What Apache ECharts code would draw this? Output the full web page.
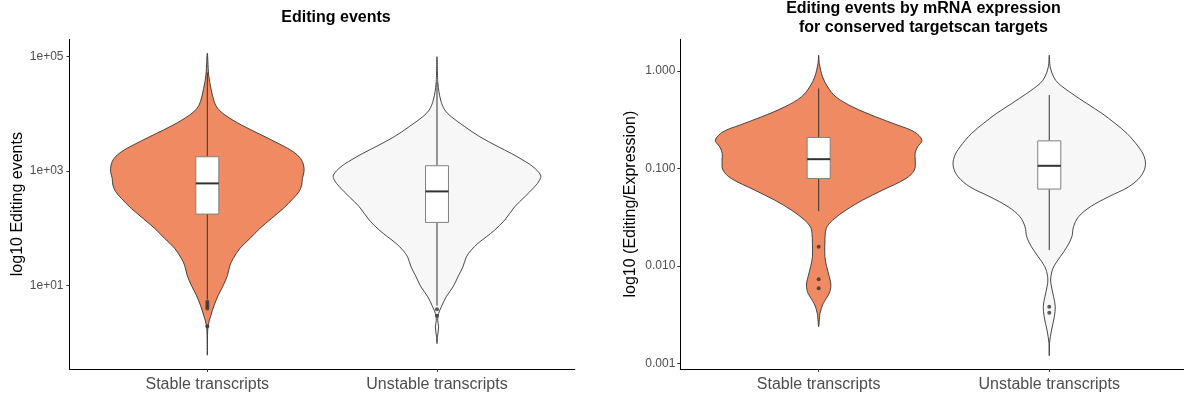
<!DOCTYPE html>
<html><head><meta charset="utf-8">
<script src="https://cdn.jsdelivr.net/npm/echarts@6/dist/echarts.min.js"></script>
<style>html,body{margin:0;padding:0;background:#fff}#c{width:1184px;height:399px}</style>
</head><body><div id="c"></div>
<script>
// ---------- data (y values are log10 units, widths are violin half-widths in category units) ----------
const categories = ['Stable transcripts', 'Unstable transcripts'];
const leftTicks = [1, 3, 5];
const leftTickLabels = ['1e+01', '1e+03', '1e+05'];
const rightTicks = [-3, -2, -1, 0];
const rightTickLabels = ['0.001', '0.010', '0.100', '1.000'];

// Panel 1: Editing events
const editStableY = [5.056,4.677,4.444,4.211,4.095,3.978,3.803,3.629,3.454,3.338,3.221,3.105,2.988,2.872,2.755,2.639,2.522,2.348,2.174,1.999,1.825,1.650,1.475,1.358,1.183,1.009,0.834,0.659,0.485,0.310,0.135,-0.214];
const editStableW = [0,0.006,0.016,0.030,0.045,0.077,0.149,0.236,0.323,0.374,0.406,0.419,0.421,0.414,0.411,0.399,0.374,0.331,0.280,0.229,0.186,0.142,0.113,0.099,0.088,0.070,0.048,0.030,0.016,0.004,0.001,0];
const editUnstableY = [4.996,4.532,4.240,4.066,3.949,3.775,3.600,3.426,3.309,3.192,3.076,2.930,2.843,2.726,2.551,2.376,2.144,1.969,1.852,1.737,1.620,1.503,1.329,1.154,0.979,0.805,0.630,0.514,0.397,0.280,0.106,-0.010];
const editUnstableW = [0,0.004,0.016,0.034,0.062,0.121,0.186,0.266,0.323,0.374,0.418,0.451,0.447,0.425,0.382,0.338,0.295,0.251,0.215,0.178,0.149,0.128,0.113,0.091,0.070,0.040,0.019,0.007,0.003,0.007,0.002,0];
// box stats: [lower whisker, Q1, median, Q3, upper whisker]
const editStableBox = [0.76, 2.249, 2.785, 3.25, 4.72];
const editUnstableBox = [0.65, 2.104, 2.645, 3.093, 4.55];
const editStableOutliers = [0.72, 0.68, 0.64, 0.60, 0.293];
const editUnstableOutliers = [0.59, 0.475];

// Panel 2: Editing / Expression
const ratioStableY = [0.162,0.077,-0.061,-0.163,-0.266,-0.368,-0.471,-0.556,-0.625,-0.710,-0.779,-0.846,-0.915,-1.017,-1.103,-1.222,-1.325,-1.428,-1.530,-1.599,-1.666,-1.769,-1.906,-2.009,-2.111,-2.197,-2.282,-2.384,-2.487,-2.624];
const ratioStableW = [0,0.003,0.017,0.039,0.075,0.147,0.248,0.343,0.415,0.448,0.429,0.418,0.419,0.415,0.379,0.278,0.191,0.118,0.061,0.036,0.029,0.027,0.027,0.035,0.046,0.053,0.046,0.020,0.006,0];
const ratioUnstableY = [0.162,0.042,-0.061,-0.128,-0.231,-0.334,-0.436,-0.539,-0.641,-0.779,-0.881,-0.984,-1.086,-1.189,-1.291,-1.394,-1.496,-1.599,-1.701,-1.804,-1.906,-2.009,-2.111,-2.179,-2.317,-2.419,-2.522,-2.658,-2.794,-2.922];
const ratioUnstableW = [0,0.004,0.019,0.040,0.098,0.163,0.229,0.286,0.337,0.387,0.412,0.416,0.395,0.344,0.257,0.178,0.127,0.105,0.098,0.077,0.048,0.019,0.007,0.007,0.019,0.026,0.022,0.010,0.001,0];
const ratioStableBox = [-1.438, -1.103, -0.905, -0.682, -0.18];
const ratioUnstableBox = [-1.838, -1.212, -0.973, -0.717, -0.248];
const ratioStableOutliers = [-1.804, -2.138, -2.230];
const ratioUnstableOutliers = [-2.419, -2.480];

// ---------- chart ----------
const FONT = '"Liberation Sans", Arial, Helvetica, sans-serif';
const fills = ['#EF8A62', '#F7F7F7'];
const BOX_HW = 0.05;

function violinRender(profiles) {
  return function (params, api) {
    const i = api.value(0);
    const p = profiles[i];
    const cx = i + 1;
    const pts = [];
    for (let k = 0; k < p.y.length; k++) pts.push(api.coord([cx + p.w[k], p.y[k]]));
    for (let k = p.y.length - 2; k >= 1; k--) pts.push(api.coord([cx - p.w[k], p.y[k]]));
    return {
      type: 'polygon',
      shape: { points: pts, smooth: 0.35 },
      style: { fill: fills[i], stroke: '#333333', lineWidth: 0.9 }
    };
  };
}
function boxRender(stats) {
  return function (params, api) {
    const i = api.value(0);
    const s = stats[i];
    const cx = i + 1;
    const lw = api.coord([cx, s[0]]), q1 = api.coord([cx, s[1]]),
          q3 = api.coord([cx, s[3]]), uw = api.coord([cx, s[4]]);
    const tl = api.coord([cx - BOX_HW, s[3]]), br = api.coord([cx + BOX_HW, s[1]]);
    const ml = api.coord([cx - BOX_HW, s[2]]), mr = api.coord([cx + BOX_HW, s[2]]);
    return {
      type: 'group',
      children: [
        { type: 'line', shape: { x1: q3[0], y1: q3[1], x2: uw[0], y2: uw[1] }, style: { stroke: '#333333', lineWidth: 1 } },
        { type: 'line', shape: { x1: q1[0], y1: q1[1], x2: lw[0], y2: lw[1] }, style: { stroke: '#333333', lineWidth: 1 } },
        { type: 'rect', shape: { x: tl[0], y: tl[1], width: br[0] - tl[0], height: br[1] - tl[1] }, style: { fill: '#FFFFFF', stroke: '#808080', lineWidth: 1 } },
        { type: 'line', shape: { x1: ml[0], y1: ml[1], x2: mr[0], y2: mr[1] }, style: { stroke: '#333333', lineWidth: 2 } }
      ]
    };
  };
}
function outlierData(lists) {
  const out = [];
  lists.forEach((l, i) => l.forEach(v => out.push([i + 1, v])));
  return out;
}
function lookup(ticks, labels) {
  return function (v) {
    for (let k = 0; k < ticks.length; k++) if (Math.abs(ticks[k] - v) < 1e-6) return labels[k];
    return '';
  };
}
function xAxisCfg(gridIndex, max) {
  return {
    gridIndex: gridIndex, type: 'value', min: 0.4, max: max,
    splitLine: { show: false },
    axisLine: { show: true, onZero: false, lineStyle: { color: '#000000', width: 1 } },
    axisTick: { show: true, customValues: [1, 2], length: 3, lineStyle: { color: '#333333' } },
    axisLabel: { customValues: [1, 2], formatter: v => categories[Math.round(v) - 1] || '', fontSize: 16, color: '#4D4D4D', fontFamily: FONT, margin: 8 }
  };
}
function yAxisCfg(gridIndex, min, max, ticks, labels, name, gap, margin) {
  return {
    gridIndex: gridIndex, type: 'value', min: min, max: max,
    splitLine: { show: false },
    axisLine: { show: true, onZero: false, lineStyle: { color: '#000000', width: 1 } },
    axisTick: { show: true, customValues: ticks, length: 3, lineStyle: { color: '#333333' } },
    axisLabel: { customValues: ticks, formatter: lookup(ticks, labels), fontSize: 12, color: '#4D4D4D', fontFamily: FONT, margin: margin },
    name: name, nameLocation: 'middle', nameGap: gap,
    nameTextStyle: { fontSize: 16, color: '#000000', fontFamily: FONT }
  };
}

const chart = echarts.init(document.getElementById('c'));
chart.setOption({
  animation: false,
  backgroundColor: '#FFFFFF',
  grid: [
    { left: 69.5, width: 505.3, top: 39.3, height: 329.7 },
    { left: 680.3, width: 503.7, top: 39.3, height: 329.7 }
  ],
  xAxis: [xAxisCfg(0, 2.6), xAxisCfg(1, 0.4 + 503.7 / 230.6)],
  yAxis: [
    yAxisCfg(0, -0.455, 5.30, leftTicks, leftTickLabels, 'log10 Editing events', 44, 6),
    yAxisCfg(1, -3.058, 0.325, rightTicks, rightTickLabels, 'log10 (Editing/Expression)', 42, 5)
  ],
  graphic: [
    { type: 'text', x: 336, y: 18, style: { text: 'Editing events', font: 'bold 16px ' + FONT, fill: '#000000', textAlign: 'center', textVerticalAlign: 'middle', align: 'center', verticalAlign: 'middle' } },
    { type: 'text', x: 923.5, y: 18.5, style: { text: 'Editing events by mRNA expression\nfor conserved targetscan targets', font: 'bold 16px ' + FONT, lineHeight: 19, fill: '#000000', textAlign: 'center', textVerticalAlign: 'middle', align: 'center', verticalAlign: 'middle' } }
  ],
  series: [
    { type: 'custom', xAxisIndex: 0, yAxisIndex: 0, data: [[0], [1]], renderItem: violinRender([{ y: editStableY, w: editStableW }, { y: editUnstableY, w: editUnstableW }]), z: 1 },
    { type: 'custom', xAxisIndex: 0, yAxisIndex: 0, data: [[0], [1]], renderItem: boxRender([editStableBox, editUnstableBox]), z: 2 },
    { type: 'scatter', xAxisIndex: 0, yAxisIndex: 0, data: outlierData([editStableOutliers, editUnstableOutliers]), symbolSize: 4, itemStyle: { color: '#333333' }, z: 3 },
    { type: 'custom', xAxisIndex: 1, yAxisIndex: 1, data: [[0], [1]], renderItem: violinRender([{ y: ratioStableY, w: ratioStableW }, { y: ratioUnstableY, w: ratioUnstableW }]), z: 1 },
    { type: 'custom', xAxisIndex: 1, yAxisIndex: 1, data: [[0], [1]], renderItem: boxRender([ratioStableBox, ratioUnstableBox]), z: 2 },
    { type: 'scatter', xAxisIndex: 1, yAxisIndex: 1, data: outlierData([ratioStableOutliers, ratioUnstableOutliers]), symbolSize: 4, itemStyle: { color: '#333333' }, z: 3 }
  ]
});
</script>
</body></html>
